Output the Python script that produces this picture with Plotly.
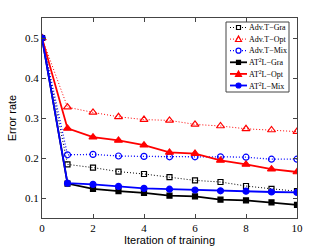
import plotly.graph_objects as go

iterations = list(range(0, 11))
adv_gra = [0.5, 0.184, 0.176, 0.166, 0.160, 0.152, 0.144, 0.140, 0.130, 0.123, 0.117]
adv_opt = [0.5, 0.327, 0.314, 0.303, 0.296, 0.294, 0.284, 0.280, 0.273, 0.270, 0.266]
adv_mix = [0.5, 0.208, 0.209, 0.205, 0.204, 0.203, 0.203, 0.203, 0.202, 0.197, 0.197]
at2l_gra = [0.5, 0.136, 0.123, 0.117, 0.113, 0.106, 0.104, 0.096, 0.094, 0.089, 0.083]
at2l_opt = [0.5, 0.274, 0.252, 0.244, 0.232, 0.214, 0.211, 0.194, 0.184, 0.172, 0.165]
at2l_mix = [0.5, 0.137, 0.134, 0.129, 0.124, 0.122, 0.120, 0.118, 0.117, 0.115, 0.114]
x_ticks = [0, 2, 4, 6, 8, 10]
y_ticks = [0.1, 0.2, 0.3, 0.4, 0.5]

DOT = "1px,2px"
series = [
    ("Adv.T\u2212Gra", adv_gra, "black", DOT, 1, "square-open", 5),
    ("Adv.T\u2212Opt", adv_opt, "red", DOT, 1, "triangle-up-open", 7),
    ("Adv.T\u2212Mix", adv_mix, "blue", DOT, 1.3, "circle-open", 6),
    ("AT<sup>2</sup>L\u2212Gra", at2l_gra, "black", "solid", 1.8, "square", 5),
    ("AT<sup>2</sup>L\u2212Opt", at2l_opt, "red", "solid", 1.8, "triangle-up", 7),
    ("AT<sup>2</sup>L\u2212Mix", at2l_mix, "blue", "solid", 1.8, "circle", 6),
]

W, H = 327, 246
ML, MR, MT, MB = 42, 30, 18, 28
PW, PH = W - ML - MR, H - MT - MB

def px(x):
    return (x - ML) / PW

def py(y):
    return (H - MB - y) / PH

fig = go.Figure()
for name, vals, color, dash, lw, sym, ms in series:
    fig.add_trace(go.Scatter(
        x=iterations, y=vals, name=name, mode="lines+markers", showlegend=False,
        line=dict(color=color, dash=dash, width=lw),
        marker=dict(symbol=sym, size=ms, color=color, line=dict(color=color, width=1.2)),
    ))

# Manual compact legend (MATLAB style)
shapes = []
annotations = []
box_l, box_r, box_t, box_b = 226, 289, 22, 92
shapes.append(dict(type="rect", xref="paper", yref="paper",
                   x0=px(box_l), x1=px(box_r), y0=py(box_b), y1=py(box_t),
                   line=dict(color="#444", width=1), fillcolor="white", layer="above"))
row_y0, row_step = 27.5, 11.6
line_x0, line_x1, mk_x, txt_x = 230, 247, 238.5, 248
for i, (name, vals, color, dash, lw, sym, ms) in enumerate(series):
    yy = row_y0 + i * row_step
    shapes.append(dict(type="line", xref="paper", yref="paper",
                       x0=px(line_x0), x1=px(line_x1), y0=py(yy), y1=py(yy),
                       line=dict(color=color, width=lw, dash=dash), layer="above"))
    filled = not sym.endswith("open")
    fill = color if filled else "white"
    r = ms / 2.0 - 0.5
    if sym.startswith("square"):
        shapes.append(dict(type="rect", xref="paper", yref="paper",
                           x0=px(mk_x - r), x1=px(mk_x + r), y0=py(yy + r), y1=py(yy - r),
                           line=dict(color=color, width=1.2), fillcolor=fill, layer="above"))
    elif sym.startswith("circle"):
        shapes.append(dict(type="circle", xref="paper", yref="paper",
                           x0=px(mk_x - r), x1=px(mk_x + r), y0=py(yy + r), y1=py(yy - r),
                           line=dict(color=color, width=1.2), fillcolor=fill, layer="above"))
    else:
        path = "M {:.5f},{:.5f} L {:.5f},{:.5f} L {:.5f},{:.5f} Z".format(
            px(mk_x - r), py(yy + r * 0.8), px(mk_x + r), py(yy + r * 0.8),
            px(mk_x), py(yy - r))
        shapes.append(dict(type="path", xref="paper", yref="paper", path=path,
                           line=dict(color=color, width=1.2), fillcolor=fill, layer="above"))
    annotations.append(dict(xref="paper", yref="paper", x=px(txt_x), y=py(yy),
                            xanchor="left", yanchor="middle", showarrow=False,
                            text=name, borderpad=0,
                            font=dict(family="Liberation Serif", size=8, color="black")))

axis_common = dict(
    showgrid=False, zeroline=False, showline=True, linecolor="#444", linewidth=1,
    mirror="ticks", ticks="inside", ticklen=4, tickcolor="#444", automargin=False,
    tickfont=dict(family="Liberation Serif", size=11, color="black"),
)
fig.update_xaxes(range=[0, 10], tickvals=x_ticks,
                 title=dict(text="Iteration of training", standoff=0,
                            font=dict(family="Liberation Sans", size=11, color="black")),
                 **axis_common)
fig.update_yaxes(range=[0.05, 0.55], tickvals=y_ticks,
                 tickformat=".1f",
                 title=dict(text="Error rate", standoff=6,
                            font=dict(family="Liberation Sans", size=11, color="black")),
                 **axis_common)

fig.update_layout(
    template="none",
    width=W, height=H,
    margin=dict(l=ML, r=MR, t=MT, b=MB),
    paper_bgcolor="white", plot_bgcolor="white",
    shapes=shapes, annotations=annotations,
    showlegend=False,
)

fig.write_html("out.html", config={"displayModeBar": False},
               post_script="document.body.style.margin='0';document.body.style.padding='0';")
